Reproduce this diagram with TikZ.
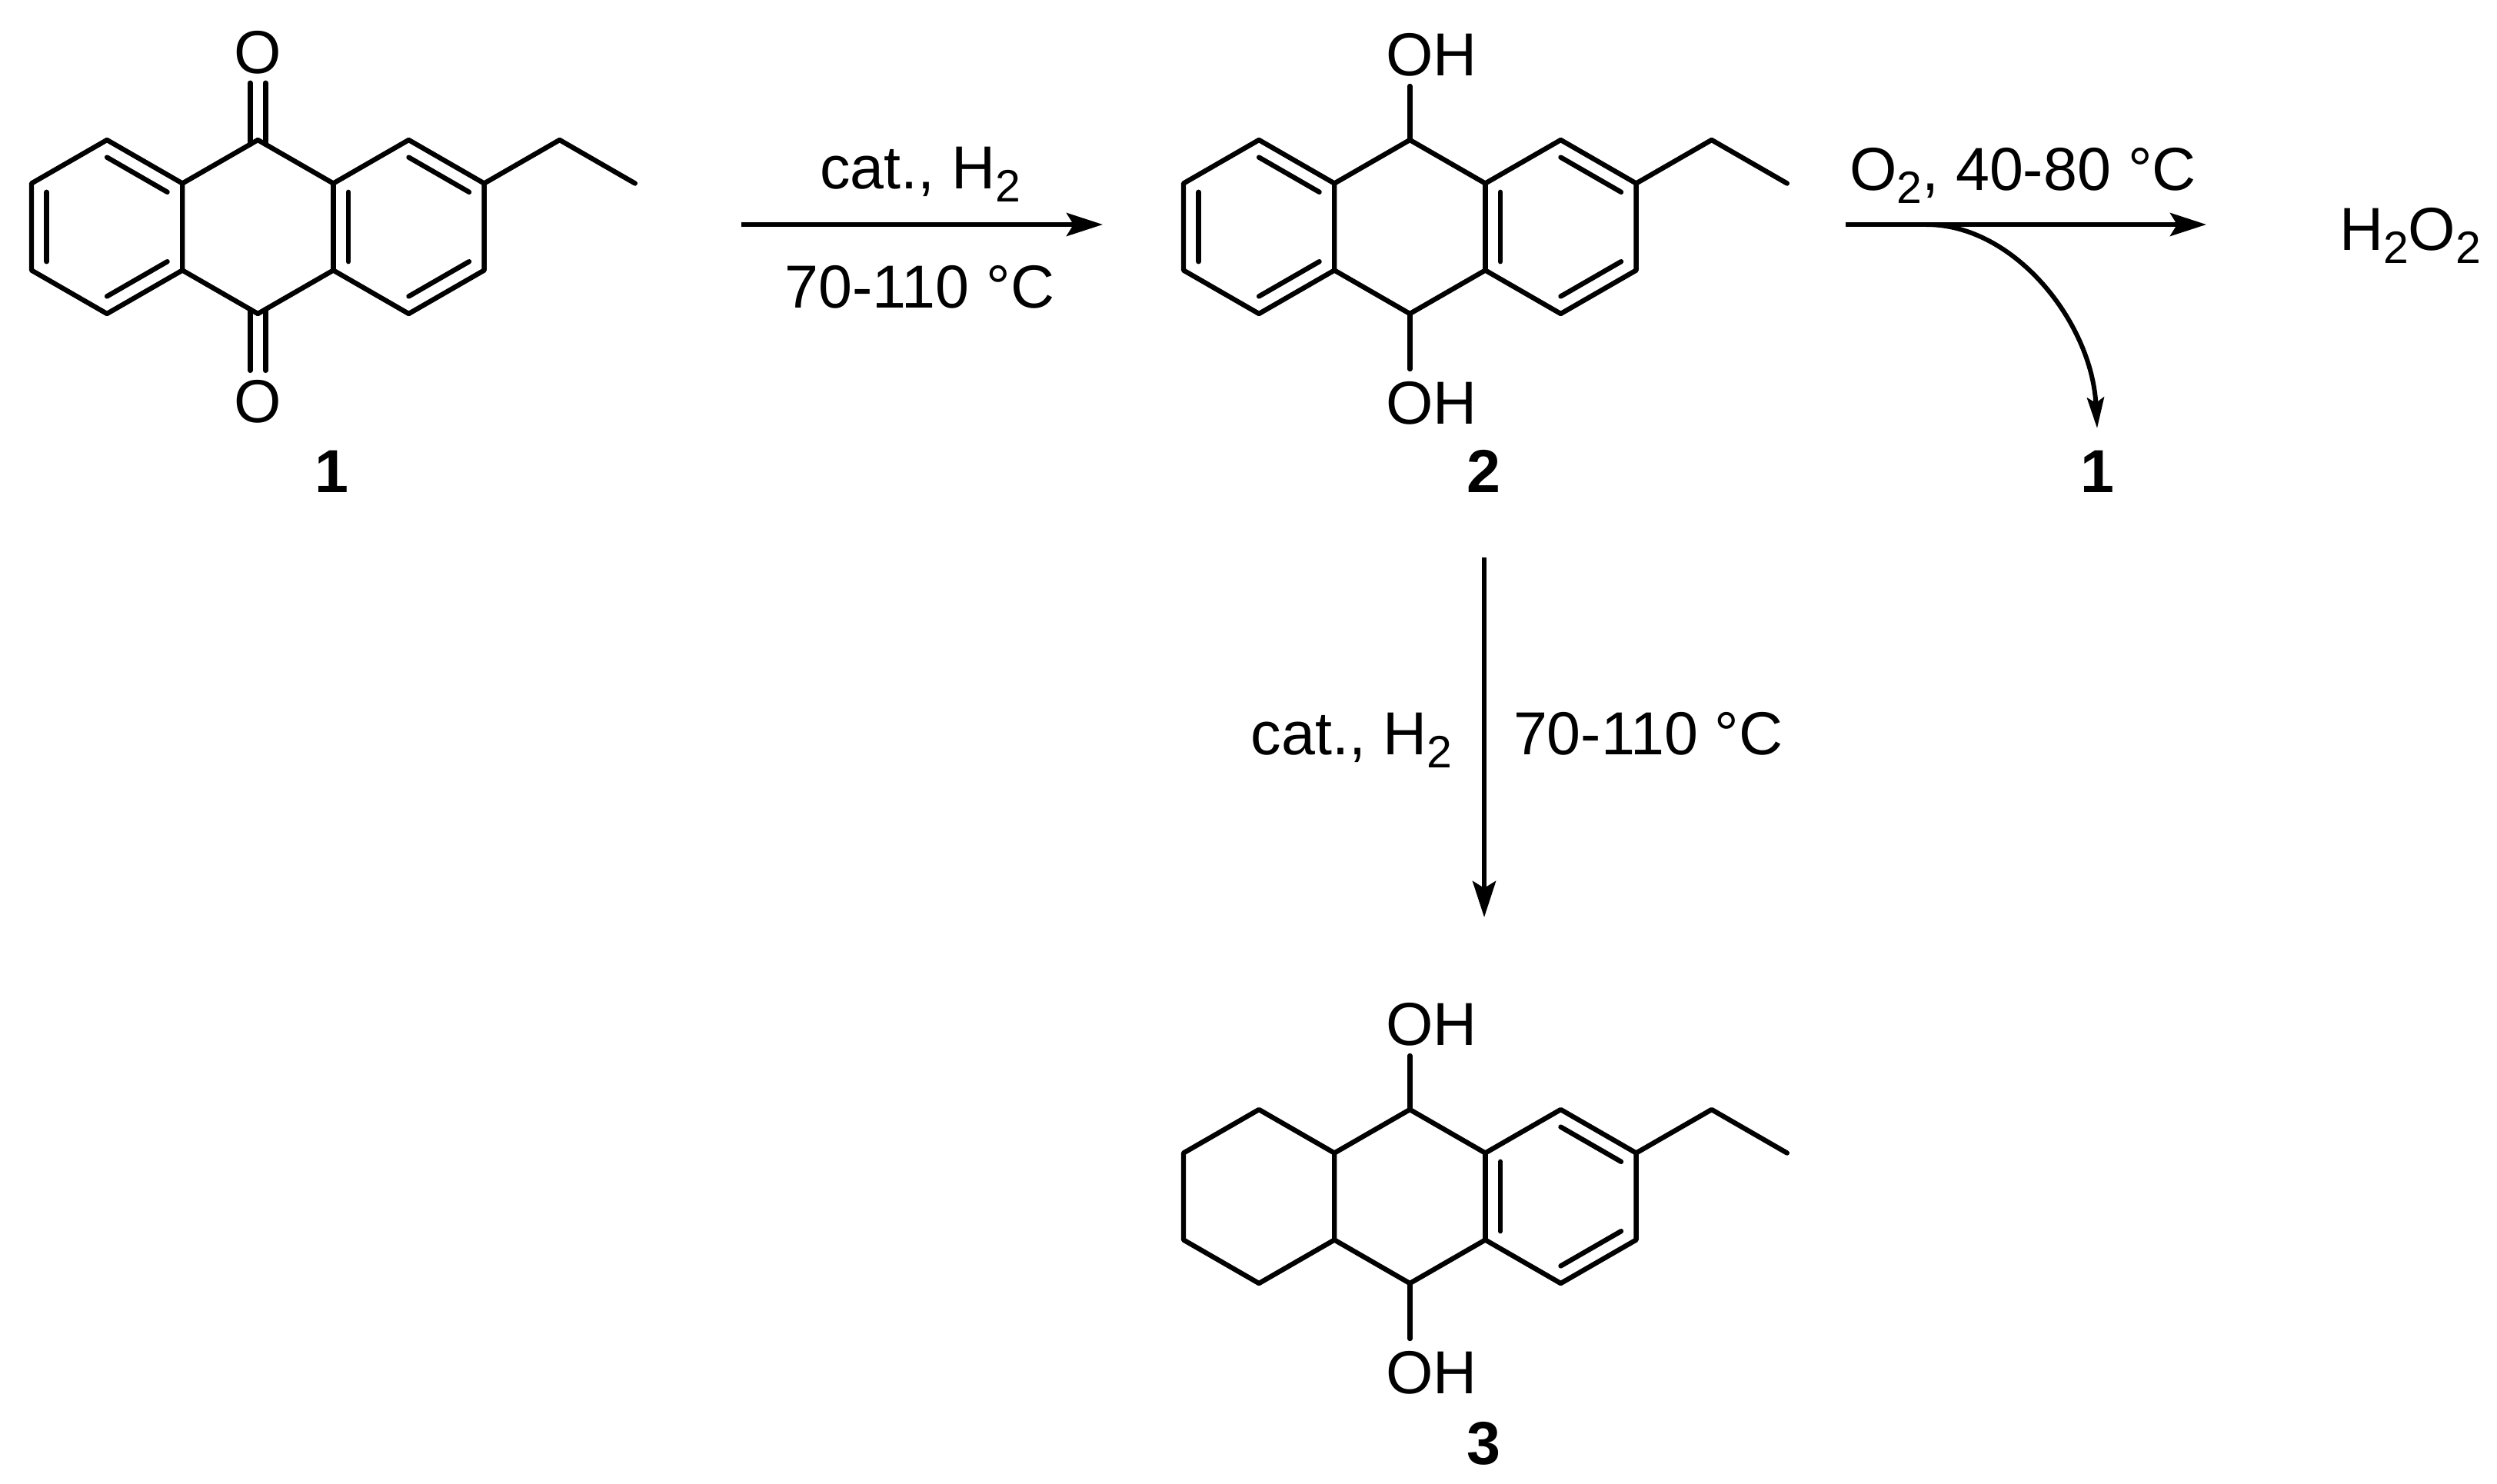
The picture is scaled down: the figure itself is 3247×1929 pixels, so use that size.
\documentclass[tikz,border=0pt]{standalone}
\usepackage{fontspec}
\setmainfont{Liberation Sans}
\usetikzlibrary{calc,arrows.meta}
\tikzset{
  bond/.style={line width=3.2pt,line cap=round,line join=round},
  rxn/.style={line width=3.2pt,-{Stealth[length=23.5pt,width=15pt,inset=4.5pt]}},
  rxnthin/.style={line width=3pt,-{Stealth[length=20pt,width=11pt,inset=3.5pt]}},
  txt/.style={inner sep=0pt,outer sep=0pt,font=\fontsize{39.5}{40}\selectfont},
  lab/.style={inner sep=0pt,outer sep=0pt,anchor=base,font=\fontsize{39.5}{40}\selectfont\bfseries}
}
\newcommand{\lowtwo}{\raisebox{-8.6pt}{\fontsize{29.5}{30}\selectfont 2}}
\newcommand{\skelpts}{%
  \coordinate (a) at (41,238.5);  \coordinate (b) at (139.1,182);
  \coordinate (c) at (237.2,238.5); \coordinate (d) at (237.2,351.5);
  \coordinate (e) at (139.1,408); \coordinate (f) at (41,351.5);
  \coordinate (g) at (335.3,182); \coordinate (h) at (433.4,238.5);
  \coordinate (i) at (433.4,351.5); \coordinate (j) at (335.3,408);
  \coordinate (k) at (531.5,182); \coordinate (l) at (629.6,238.5);
  \coordinate (m) at (629.6,351.5); \coordinate (n) at (531.5,408);
  \coordinate (p) at (727.7,182); \coordinate (q) at (825.8,238.5);
  \coordinate (cL) at (139.1,295); \coordinate (cR) at (531.5,295);
  \draw[bond] (a)--(b)--(c)--(d)--(e)--(f)--cycle;
  \draw[bond] (c)--(g)--(h)--(k)--(l)--(m)--(n)--(i)--(j)--(d);
  \draw[bond] (h)--(i);
  \draw[bond] (l)--(p)--(q);
  \draw[bond] ($(cR)!0.8!(h)$)--($(cR)!0.8!(i)$);
  \draw[bond] ($(cR)!0.8!(k)$)--($(cR)!0.8!(l)$);
  \draw[bond] ($(cR)!0.8!(m)$)--($(cR)!0.8!(n)$);
}
\newcommand{\leftarom}{%
  \draw[bond] ($(cL)!0.8!(a)$)--($(cL)!0.8!(f)$);
  \draw[bond] ($(cL)!0.8!(b)$)--($(cL)!0.8!(c)$);
  \draw[bond] ($(cL)!0.8!(d)$)--($(cL)!0.8!(e)$);
}
\newcommand{\hydroxy}{%
  \node[txt,anchor=base west] (ohtop) at (304,98) {OH};
  \node[txt,anchor=base west] (ohbot) at (304,551) {OH};
  \coordinate (ohtopb) at (335.3,112);
  \coordinate (ohbotb) at (335.3,480);
  \draw[bond] (ohtopb)--(g);
  \draw[bond] (ohbotb)--(j);
}
\begin{document}
\begin{tikzpicture}[x=0.5pt,y=-0.5pt]
\useasboundingbox (0,0) rectangle (3247,1929);
% compound 1
\begin{scope}[name prefix=A]
  \skelpts
  \leftarom
  \node[txt,anchor=base] (otop) at (335.3,95) {O};
  \node[txt,anchor=base] (obot) at (335.3,549) {O};
  \draw[bond] ($(otop.south)+(-10,12)$)--($(g)+(-10,5.8)$);
  \draw[bond] ($(otop.south)+(10,12)$)--($(g)+(10,5.8)$);
  \draw[bond] ($(obot.north)+(-10,-12)$)--($(j)+(-10,-5.8)$);
  \draw[bond] ($(obot.north)+(10,-12)$)--($(j)+(10,-5.8)$);
\end{scope}
\node[lab] (n1) at (431,640) {1};
% compound 2
\begin{scope}[shift={(1498,0)},name prefix=B]
  \skelpts
  \leftarom
  \hydroxy
\end{scope}
\node[lab] (n2) at (1929,640) {2};
% compound 3
\begin{scope}[shift={(1498,1261)},name prefix=C]
  \skelpts
  \hydroxy
\end{scope}
\node[lab] (n3) at (1929,1904) {3};
% first arrow
\coordinate (r1s) at (964,292);
\coordinate (r1e) at (1434,292);
\draw[rxn] (r1s)--(r1e);
\node[txt,anchor=base] (t1) at (1197,245) {cat., H\lowtwo};
\node[txt,anchor=base] (t2) at (1196,400) {70-110 °C};
% second arrow
\coordinate (r2s) at (2400,292);
\coordinate (r2e) at (2869,292);
\coordinate (r2b) at (2505,292);
\coordinate (r2t) at (2727,557);
\draw[rxn] (r2s)--(r2e);
\draw[rxnthin] (r2b) .. controls (2620,292) and (2720,420) .. (r2t);
\node[txt,anchor=base west] (t3) at (2405,247) {O\lowtwo, 40-80 °C};
\node[txt,anchor=base west] (h2o2) at (3042,325) {H\lowtwo O\lowtwo};
\node[lab] (n1b) at (2727,640) {1};
% third arrow
\coordinate (r3s) at (1930,725);
\coordinate (r3e) at (1930,1193);
\draw[rxn] (r3s)--(r3e);
\node[txt,anchor=base east] (t4) at (1888,981) {cat., H\lowtwo};
\node[txt,anchor=base west] (t5) at (1968,981) {70-110 °C};
\end{tikzpicture}
\end{document}
